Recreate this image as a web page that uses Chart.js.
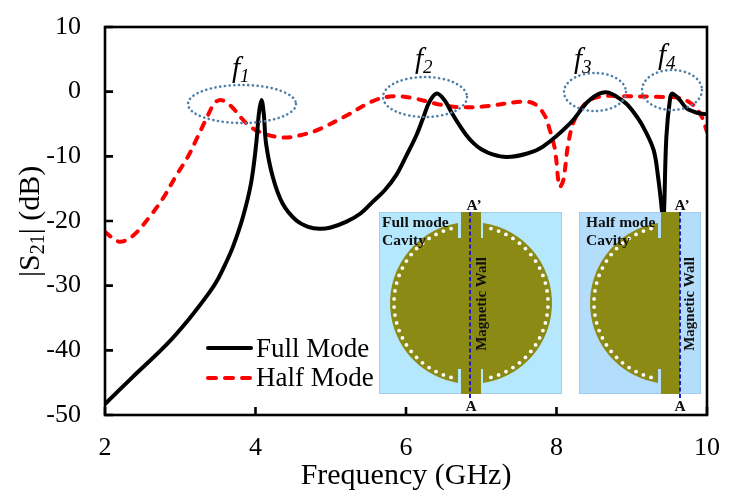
<!DOCTYPE html>
<html>
<head>
<meta charset="utf-8">
<style>
  html, body { margin: 0; padding: 0; background: #fff; }
  #wrap { width: 734px; height: 496px; }
</style>
<script src="https://cdn.jsdelivr.net/npm/chart.js@4"></script>
</head>
<body>
<div id="wrap"><canvas id="chart" width="734" height="496"></canvas></div>
<script>
const xTicks = [2, 4, 6, 8, 10];
const yTicks = [10, 0, -10, -20, -30, -40, -50];

const fullFreq = [2, 2.37, 2.81, 3.12, 3.39, 3.5, 3.59, 3.7, 3.83, 3.94, 4.01, 4.045, 4.08, 4.11, 4.14, 4.23, 4.36, 4.54, 4.7, 4.85, 5, 5.21, 5.4, 5.56, 5.72, 5.87, 6, 6.14, 6.23, 6.31, 6.41, 6.51, 6.6, 6.7, 6.8, 6.9, 7, 7.15, 7.34, 7.6, 7.82, 8.18, 8.44, 8.66, 8.89, 9, 9.15, 9.29, 9.35, 9.4, 9.415, 9.43, 9.46, 9.51, 9.54, 9.64, 9.73, 9.88, 10];
const fullDb = [-48.3, -44.1, -39.2, -35.1, -31, -29, -26.9, -24, -19.5, -14.2, -8, -3.4, -1.3, -3.4, -8, -13.2, -17.3, -19.9, -20.9, -21.2, -21, -20.1, -18.8, -17, -15.2, -12.9, -10, -6.7, -4, -1.6, -0.3, -1.3, -3.1, -5, -6.7, -8, -8.9, -9.7, -10.1, -9.6, -8.5, -4.9, -1.3, -0.1, -1.5, -2.8, -5.4, -9, -13.2, -18.3, -21, -18.3, -7, -1, -0.3, -1.3, -2.6, -3.3, -3.5];

const halfFreq = [2, 2.19, 2.37, 2.59, 2.77, 2.95, 3.1, 3.21, 3.35, 3.46, 3.55, 3.68, 3.88, 4.05, 4.36, 4.68, 4.85, 5.21, 5.56, 5.83, 6.09, 6.45, 6.71, 7.02, 7.55, 7.71, 7.84, 7.91, 7.98, 8.04, 8.09, 8.15, 8.22, 8.33, 8.44, 8.62, 8.88, 9.33, 9.64, 9.82, 9.93, 10];
const halfDb = [-21.7, -23.2, -22.3, -19.4, -16.5, -12.9, -10.1, -7.5, -4.1, -1.7, -1.3, -2.3, -4.9, -6.2, -7.1, -6.5, -5.8, -3.7, -1.45, -0.7, -1, -2, -2.4, -2.3, -1.55, -1.9, -3.6, -5.9, -9, -14.7, -13.7, -8.5, -4.9, -2.6, -1.3, -0.7, -0.7, -0.8, -1, -2.1, -3.9, -6.2];

const SERIF = '"Liberation Serif", serif';

function pairs(xs, ys) {
    return xs.map((x, i) => ({ x: x, y: ys[i] }));
}

// text with a subscript, drawn left aligned
function subText(ctx, x, y, parts, font, subFont) {
    parts.forEach(p => {
        ctx.font = p.sub ? subFont : font;
        ctx.fillText(p.t, x, y + (p.sub ? 5 : 0));
        x += ctx.measureText(p.t).width;
    });
}

function drawDisc(ctx, cx, cy, r, leftEdge, rightEdge, slotLeft, slotRight) {
    ctx.fillStyle = '#8b8a14';
    if (leftEdge !== null) {
        const a = Math.asin((cx - leftEdge) / r);
        ctx.beginPath();
        ctx.arc(cx, cy, r, -Math.PI / 2 - a, Math.PI / 2 + a, true);
        ctx.lineTo(leftEdge, cy + 66);
        ctx.lineTo(slotLeft, cy + 66);
        ctx.lineTo(slotLeft, cy - 65);
        ctx.lineTo(leftEdge, cy - 65);
        ctx.closePath();
        ctx.fill();
    }
    if (rightEdge !== null) {
        const a = Math.asin((rightEdge - cx) / r);
        ctx.beginPath();
        ctx.arc(cx, cy, r, -Math.PI / 2 + a, Math.PI / 2 - a, false);
        ctx.lineTo(rightEdge, cy + 66);
        ctx.lineTo(slotRight, cy + 66);
        ctx.lineTo(slotRight, cy - 65);
        ctx.lineTo(rightEdge, cy - 65);
        ctx.closePath();
        ctx.fill();
    }
}

function drawVias(ctx, cx, cy, r, fromDeg, toDeg, step) {
    ctx.fillStyle = '#fff';
    for (let d = fromDeg; d <= toDeg; d += step) {
        const t = d * Math.PI / 180;
        ctx.beginPath();
        ctx.arc(cx + r * Math.cos(t), cy + r * Math.sin(t), 1.9, 0, Math.PI * 2);
        ctx.fill();
    }
}

function drawWall(ctx, x, top, bottom) {
    ctx.save();
    ctx.strokeStyle = '#1a1ad6';
    ctx.lineWidth = 2;
    ctx.setLineDash([4, 2.5]);
    ctx.beginPath();
    ctx.moveTo(x, top);
    ctx.lineTo(x, bottom);
    ctx.stroke();
    ctx.restore();
}

const decorations = {
    id: 'decorations',
    afterDatasetsDraw(chart) {
        const ctx = chart.ctx;
        const a = chart.chartArea;
        const xs = chart.scales.x;
        const ys = chart.scales.y;
        ctx.save();

        // frame and inward ticks
        ctx.strokeStyle = '#000';
        ctx.lineWidth = 2.6;
        ctx.strokeRect(a.left, a.top, a.right - a.left, a.bottom - a.top);
        ctx.beginPath();
        xTicks.forEach(v => {
            const px = xs.getPixelForValue(v);
            ctx.moveTo(px, a.bottom);
            ctx.lineTo(px, a.bottom - 8);
        });
        yTicks.forEach(v => {
            const py = ys.getPixelForValue(v);
            ctx.moveTo(a.left, py);
            ctx.lineTo(a.left + 8, py);
        });
        ctx.stroke();

        // dotted ellipses round the resonances
        ctx.strokeStyle = '#4f7fa8';
        ctx.lineWidth = 2.6;
        ctx.lineCap = 'round';
        ctx.setLineDash([0.1, 4.6]);
        [[242, 104, 54, 19], [425, 97, 42, 20], [595, 92, 31, 19], [672, 90, 30, 20]].forEach(e => {
            ctx.beginPath();
            ctx.ellipse(e[0], e[1], e[2], e[3], 0, 0, Math.PI * 2);
            ctx.stroke();
        });
        ctx.setLineDash([]);
        ctx.lineCap = 'butt';

        // f labels
        ctx.fillStyle = '#000';
        ctx.textAlign = 'left';
        ctx.textBaseline = 'alphabetic';
        const fontF = 'italic 29px ' + SERIF;
        const fontSub = 'italic 19px ' + SERIF;
        [[232, 77, '1'], [415, 68, '2'], [574, 68, '3'], [658, 64, '4']].forEach(l => {
            subText(ctx, l[0], l[1], [{ t: 'f' }, { t: l[2], sub: true }], fontF, fontSub);
        });

        // legend
        ctx.lineWidth = 4;
        ctx.lineCap = 'round';
        ctx.strokeStyle = chart.data.datasets[0].borderColor;
        ctx.beginPath();
        ctx.moveTo(208, 348);
        ctx.lineTo(251, 348);
        ctx.stroke();
        ctx.strokeStyle = chart.data.datasets[1].borderColor;
        ctx.setLineDash([8, 9]);
        ctx.beginPath();
        ctx.moveTo(208, 378);
        ctx.lineTo(251, 378);
        ctx.stroke();
        ctx.setLineDash([]);
        ctx.lineCap = 'butt';
        ctx.fillStyle = '#000';
        ctx.font = '27px ' + SERIF;
        ctx.fillText(chart.data.datasets[0].label, 256, 357);
        ctx.fillText(chart.data.datasets[1].label, 256, 386);

        // axis titles
        ctx.font = '30px ' + SERIF;
        ctx.textAlign = 'center';
        ctx.fillText('Frequency (GHz)', 406, 484);
        ctx.save();
        ctx.translate(39, 277);
        ctx.rotate(-Math.PI / 2);
        ctx.textAlign = 'left';
        subText(ctx, 0, 0, [{ t: '|S' }, { t: '21', sub: true }, { t: '| (dB)' }], '30px ' + SERIF, '20px ' + SERIF);
        ctx.restore();

        // full mode cavity
        ctx.fillStyle = '#b6e8fd';
        ctx.fillRect(379, 212, 183, 182);
        ctx.strokeStyle = '#9fd0f2';
        ctx.lineWidth = 1;
        ctx.strokeRect(379.5, 212.5, 182, 181);
        ctx.fillStyle = '#8b8a14';
        ctx.fillRect(461, 212, 20, 182);
        drawDisc(ctx, 471, 303, 81, 458, 483, 461, 481);
        drawVias(ctx, 471, 303, 77, 105, 255, 6);
        drawVias(ctx, 471, 303, 77, -75, 75, 6);
        drawWall(ctx, 470, 212, 398);

        // half mode cavity
        ctx.fillStyle = '#b4dcfb';
        ctx.fillRect(579, 212, 122, 182);
        ctx.strokeStyle = '#9fcdf2';
        ctx.lineWidth = 1;
        ctx.strokeRect(579.5, 212.5, 121, 181);
        ctx.fillStyle = '#8b8a14';
        ctx.fillRect(661, 212, 19, 182);
        drawDisc(ctx, 671, 303, 81, 658, null, 661, 680);
        drawVias(ctx, 671, 303, 77, 105, 255, 6);
        drawWall(ctx, 680, 212, 398);

        // inset labels
        ctx.fillStyle = '#111';
        ctx.textAlign = 'left';
        ctx.font = 'bold 15.5px ' + SERIF;
        ctx.fillText('Full mode', 382, 227);
        ctx.fillText('Cavity', 382, 245);
        ctx.fillText('Half mode', 586, 227);
        ctx.fillText('Cavity', 586, 245);
        ctx.textAlign = 'center';
        ctx.fillText('A\u2019', 474, 210);
        ctx.fillText('A\u2019', 682, 210);
        ctx.fillText('A', 471, 411);
        ctx.fillText('A', 680, 411);
        ctx.font = 'bold 15px ' + SERIF;
        [[486, 304], [694, 304]].forEach(p => {
            ctx.save();
            ctx.translate(p[0], p[1]);
            ctx.rotate(-Math.PI / 2);
            ctx.fillText('Magnetic Wall', 0, 0);
            ctx.restore();
        });

        ctx.restore();
    }
};

new Chart(document.getElementById('chart').getContext('2d'), {
    type: 'line',
    data: {
        datasets: [
            {
                label: 'Full Mode',
                data: pairs(fullFreq, fullDb),
                borderColor: '#000000',
                borderWidth: 4,
                borderJoinStyle: 'round',
                pointRadius: 0,
                tension: 0.35
            },
            {
                label: 'Half Mode',
                data: pairs(halfFreq, halfDb),
                borderColor: '#ff0000',
                borderWidth: 4,
                borderCapStyle: 'round',
                borderJoinStyle: 'round',
                borderDash: [7, 9],
                pointRadius: 0,
                tension: 0.35
            }
        ]
    },
    options: {
        responsive: false,
        animation: false,
        layout: { padding: { top: 27, right: 27, left: 0, bottom: 0 } },
        plugins: { legend: { display: false }, tooltip: { enabled: false } },
        scales: {
            x: {
                type: 'linear',
                min: 2,
                max: 10,
                afterBuildTicks: s => { s.ticks = xTicks.map(v => ({ value: v })); },
                afterFit: s => { s.height = 81; s.paddingLeft = 0; s.paddingRight = 0; },
                grid: { display: false, drawTicks: false },
                border: { display: false },
                ticks: { color: '#000', font: { family: SERIF, size: 26 }, padding: 18, maxRotation: 0 }
            },
            y: {
                min: -50,
                max: 10,
                afterBuildTicks: s => { s.ticks = yTicks.map(v => ({ value: v })); },
                afterFit: s => { s.width = 105; s.paddingTop = 0; s.paddingBottom = 0; },
                grid: { display: false, drawTicks: false },
                border: { display: false },
                ticks: { color: '#000', font: { family: SERIF, size: 26 }, padding: 24 }
            }
        }
    },
    plugins: [decorations]
});
</script>
</body>
</html>
